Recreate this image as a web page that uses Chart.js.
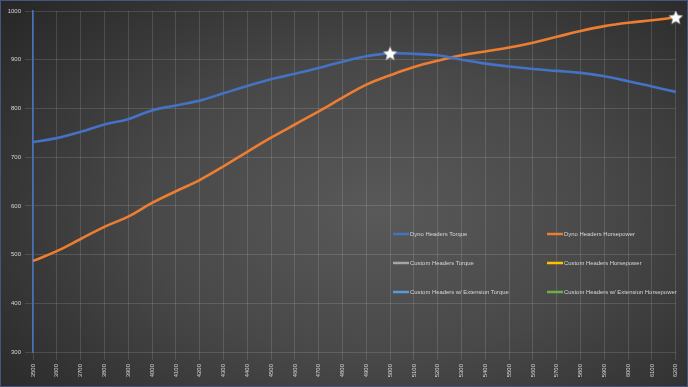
<!DOCTYPE html>
<html>
<head>
<meta charset="utf-8">
<script src="https://cdn.jsdelivr.net/npm/chart.js@4.4.1/dist/chart.umd.min.js"></script>
<style>
  html, body { margin: 0; padding: 0; }
  body { width: 688px; height: 387px; overflow: hidden; background: #262626; }
  #wrap {
    position: relative; width: 686px; height: 385px;
    border: 1px solid #46557a;
    background: radial-gradient(ellipse 75% 85% at 55% 55%, #595959 0%, #484848 45%, #313131 80%, #252525 100%);
  }
  canvas { display: block; }
</style>
</head>
<body>
<div id="wrap"><canvas id="chart" width="686" height="385"></canvas></div>
<script>
// rpm along the bottom
var rpm = ['3500', '3600', '3700', '3800', '3900', '4000', '4100', '4200', '4300', '4400',
  '4500', '4600', '4700', '4800', '4900', '5000', '5100', '5200', '5300', '5400',
  '5500', '5600', '5700', '5800', '5900', '6000', '6100', '6200'];

var dynoTorque = [731, 739, 752, 767, 778, 796, 806, 816, 831, 846,
  860, 871, 883, 896, 907, 913, 912, 909, 900, 892,
  886, 881, 877, 873, 866, 856, 845, 834];

var dynoHorsepower = [487, 507, 532, 557, 578, 606, 630, 653, 681, 711,
  740, 767, 794, 822, 849, 868, 885, 898, 909, 917,
  925, 935, 947, 959, 969, 976, 981, 987];

// these runs show up in the legend only
var customTorque = [];
var customHorsepower = [];
var extTorque = [];
var extHorsepower = [];

var yTicks = { min: 300, max: 1000, step: 100 };

var textColor = '#d6d6d6';
var gridColor = 'rgba(255,255,255,0.13)';
var fontFamily = '"Liberation Sans", Arial, sans-serif';

// mark the peak of a series with a star, everything else null
function peakOnly(values) {
  var top = Math.max.apply(null, values);
  var i = values.indexOf(top);
  return values.map(function(v, j) { return j === i ? v : null; });
}

function makeStar(size) {
  var c = document.createElement('canvas');
  c.width = size; c.height = size;
  var ctx = c.getContext('2d');
  var cx = size / 2, cy = size / 2 + 0.6, ro = size / 2 - 0.5, ri = ro * 0.45;
  ctx.beginPath();
  for (var k = 0; k < 10; k++) {
    var r = k % 2 === 0 ? ro : ri;
    var a = -Math.PI / 2 + k * Math.PI / 5;
    ctx.lineTo(cx + r * Math.cos(a), cy + r * Math.sin(a));
  }
  ctx.closePath();
  ctx.fillStyle = '#ffffff';
  ctx.fill();
  ctx.strokeStyle = 'rgba(120,120,120,0.6)';
  ctx.lineWidth = 0.6;
  ctx.stroke();
  return c;
}
var star = makeStar(16);

function line(label, data, color) {
  return {
    label: label,
    data: data,
    borderColor: color,
    backgroundColor: color,
    borderWidth: 2.6,
    pointRadius: 0,
    tension: 0.4,
    fill: false
  };
}

function starSet(data) {
  return {
    label: '',
    data: data,
    showLine: false,
    pointStyle: star,
    pointRadius: 8,
    order: -1,
    isStar: true
  };
}

// two column legend inside the plot, like the spreadsheet one
var gridLegend = {
  id: 'gridLegend',
  afterDraw: function(chart) {
    var ctx = chart.ctx;
    var items = chart.data.datasets.filter(function(d) { return !d.isStar; });
    var colX = [392, 546];
    var rowY = [233, 262, 291];
    ctx.save();
    ctx.font = '5.9px ' + fontFamily;
    ctx.textBaseline = 'middle';
    ctx.fillStyle = textColor;
    items.forEach(function(d, n) {
      var x = colX[n % 2], y = rowY[Math.floor(n / 2)];
      ctx.strokeStyle = d.borderColor;
      ctx.lineWidth = 2.5;
      ctx.beginPath();
      ctx.moveTo(x, y);
      ctx.lineTo(x + 16, y);
      ctx.stroke();
      ctx.fillText(d.label, x + 17, y + 0.5);
    });
    ctx.restore();
  }
};

new Chart(document.getElementById('chart'), {
  type: 'line',
  data: {
    labels: rpm,
    datasets: [
      line('Dyno Headers Torque', dynoTorque, '#4472C4'),
      line('Dyno Headers Horsepower', dynoHorsepower, '#ED7D31'),
      line('Custom Headers Torque', customTorque, '#A5A5A5'),
      line('Custom Headers Horsepower', customHorsepower, '#FFC000'),
      line('Custom Headers w/ Extension Torque', extTorque, '#5B9BD5'),
      line('Custom Headers w/ Extension Horsepower', extHorsepower, '#70AD47'),
      starSet(peakOnly(dynoTorque)),
      starSet(peakOnly(dynoHorsepower))
    ]
  },
  options: {
    responsive: false,
    animation: false,
    layout: { padding: { left: 0, top: 10, right: 10, bottom: 0 } },
    plugins: {
      legend: { display: false },
      tooltip: { enabled: false }
    },
    scales: {
      x: {
        offset: false,
        grid: { color: gridColor, lineWidth: 1 },
        border: { display: false },
        ticks: {
          color: textColor,
          font: { size: 6, family: fontFamily },
          minRotation: 90, maxRotation: 90,
          autoSkip: false,
          padding: 4
        },
        afterFit: function(s) { s.height = 34; }
      },
      y: {
        min: yTicks.min,
        max: yTicks.max,
        grid: { color: gridColor, lineWidth: 1 },
        border: { color: '#4472C4', width: 1.5 },
        ticks: {
          stepSize: yTicks.step,
          color: textColor,
          font: { size: 6, family: fontFamily },
          padding: 4,
          callback: function(v) { return String(v); }
        },
        afterFit: function(s) { s.width = 32; }
      }
    }
  },
  plugins: [gridLegend]
});
</script>
</body>
</html>
